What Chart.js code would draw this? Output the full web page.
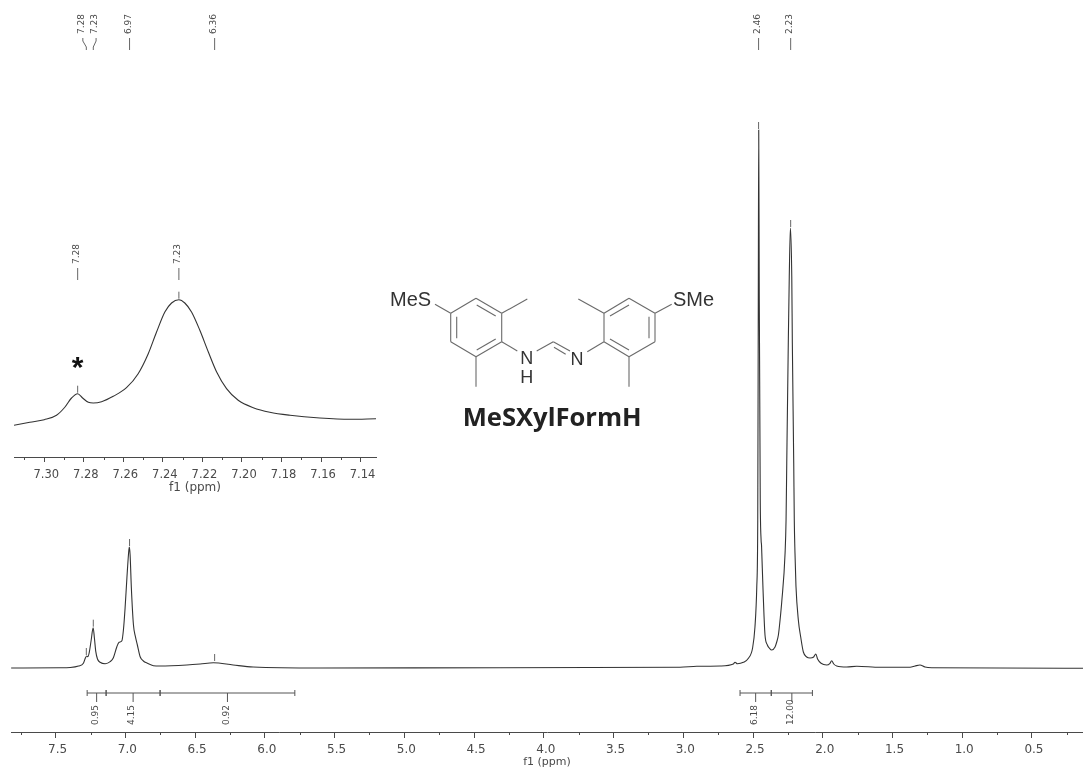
<!DOCTYPE html>
<html>
<head>
<meta charset="utf-8">
<title>MeSXylFormH</title>
<script src="https://cdn.jsdelivr.net/npm/chart.js@4/dist/chart.umd.min.js"></script>
<style>
    html, body { margin: 0; padding: 0; background: #fff; }
    #page { position: relative; width: 1083px; height: 770px; overflow: hidden; }
    canvas, svg { position: absolute; display: block; }
    #mainChart { left: 0; top: 0; }
    #insetChart { left: 0; top: 230px; }
    #molecule { left: 0; top: 0; }
    #molecule line { stroke: #6a6a6a; stroke-width: 1.1; }
    #molecule text { font-family: "Liberation Sans", sans-serif; fill: #333; }
</style>
</head>
<body>
<div id="page">
    <canvas id="mainChart" width="1083" height="770"></canvas>
    <canvas id="insetChart" width="400" height="266"></canvas>
    <svg id="molecule" width="1083" height="770">
        <!-- left ring -->
        <line x1="476" y1="298.3" x2="501.7" y2="313.3"/><line x1="501.7" y1="313.3" x2="501.7" y2="341.7"/>
        <line x1="501.7" y1="341.7" x2="476" y2="356.7"/><line x1="476" y1="356.7" x2="450.7" y2="341.7"/>
        <line x1="450.7" y1="341.7" x2="450.7" y2="313.3"/><line x1="450.7" y1="313.3" x2="476" y2="298.3"/>
        <line x1="456.7" y1="316.7" x2="456.7" y2="338.3"/><line x1="476.7" y1="305" x2="495.7" y2="316"/>
        <line x1="476.7" y1="350" x2="495.7" y2="339"/>
        <line x1="501.7" y1="313.3" x2="527.3" y2="299"/><line x1="476" y1="356.7" x2="476" y2="386.7"/>
        <line x1="450.7" y1="313.3" x2="435" y2="304.3"/><line x1="501.7" y1="341.7" x2="517.3" y2="351"/>
        <!-- formamidine link -->
        <line x1="536.7" y1="351" x2="553.3" y2="341.7"/><line x1="553.3" y1="341.7" x2="570" y2="351"/>
        <line x1="554" y1="347.3" x2="565.7" y2="354.3"/><line x1="587.3" y1="351.7" x2="604" y2="341.7"/>
        <!-- right ring -->
        <line x1="604" y1="313.3" x2="629" y2="298.3"/><line x1="629" y1="298.3" x2="655" y2="313.3"/>
        <line x1="655" y1="313.3" x2="655" y2="341.7"/><line x1="655" y1="341.7" x2="629" y2="356.7"/>
        <line x1="629" y1="356.7" x2="604" y2="341.7"/><line x1="604" y1="341.7" x2="604" y2="313.3"/>
        <line x1="649" y1="316.7" x2="649" y2="338.3"/><line x1="610" y1="316" x2="629" y2="305"/>
        <line x1="610" y1="339" x2="629" y2="350"/>
        <line x1="604" y1="313.3" x2="578.3" y2="299"/><line x1="629" y1="356.7" x2="629" y2="386.7"/>
        <line x1="655" y1="313.3" x2="671.7" y2="304.3"/>
        <text x="390" y="306" font-size="20">MeS</text>
        <text x="673" y="306" font-size="20">SMe</text>
        <text x="526.7" y="364" font-size="18" text-anchor="middle">N</text>
        <text x="526.7" y="382.5" font-size="18" text-anchor="middle">H</text>
        <text x="577" y="364.5" font-size="18" text-anchor="middle">N</text>
        <text x="462.7" y="426" font-size="25" font-weight="700" textLength="179" lengthAdjust="spacingAndGlyphs" style="font-family:'Open Sans',sans-serif;fill:#222">MeSXylFormH</text>
    </svg>
</div>
<script>
// main spectrum
const ppm = [7.819,7.468,7.396,7.336,7.301,7.286,7.276,7.269,7.258,7.245,7.231,7.222,7.212,7.200,7.181,7.145,7.109,7.086,7.061,7.045,7.025,7.014,7.002,6.989,6.975,6.971,6.966,6.957,6.942,6.928,6.914,6.894,6.871,6.842,6.799,6.751,6.559,6.464,6.369,6.227,6.084,5.604,4.313,3.023,2.903,2.736,2.641,2.629,2.612,2.569,2.533,2.503,2.486,2.473,2.466,2.462,2.459,2.455,2.448,2.442,2.439,2.437,2.428,2.421,2.414,2.397,2.383,2.366,2.342,2.330,2.318,2.306,2.294,2.270,2.263,2.258,2.247,2.240,2.232,2.222,2.218,2.208,2.204,2.199,2.192,2.175,2.158,2.139,2.115,2.091,2.065,2.050,2.036,2.012,1.972,1.948,1.936,1.921,1.900,1.828,1.756,1.589,1.374,1.338,1.303,1.267,1.219,0.134];
const intensity = [0,0.2,0.5,2,4.7,10.3,12,11.3,16.3,28,40.3,30,16.3,9,5.7,4.3,6.3,10.3,21.3,25.7,27.3,38,60,90,118,121,113,80,43,31.3,23,11.3,7,4.7,2.3,2,3,4,5.3,3,1,0,0.3,0.7,1.7,2,4,5.7,4.3,5.7,9.7,20,41,81,148,368,538,368,168,128,123,115,78,52,33,23,20,18,21,26,33,48,66,115,148,205,325,391,440,391,325,205,148,115,82,48,31,16,11,10,11,14,8.7,4.7,3,4.7,7.3,4,2,1,1.7,0.7,0.7,2,3,1,0.3,-0.3];

const majorTicks = [7.5,7,6.5,6,5.5,5,4.5,4,3.5,3,2.5,2,1.5,1,0.5];
const minorTicks = [7.75,7.25,6.75,6.25,5.75,5.25,4.75,4.25,3.75,3.25,2.75,2.25,1.75,1.25,0.75,0.25];

const peakPpm = [7.28,7.23,6.97,6.36,2.46,2.23];
const peakHeight = [12,40.3,121,6,538,440];
const peakLabelPpm = [7.305,7.21,6.97,6.36,2.46,2.23];
const peakLabels = ['7.28','7.23','6.97','6.36','2.46','2.23'];

const integralFrom = [7.274,7.138,6.751,2.593,2.369];
const integralTo = [7.138,6.751,5.785,2.369,2.074];
const integralLabels = ['0.95','4.15','0.92','6.18','12.00'];

// inset, 7.13 - 7.32 ppm
const insetPpm = [7.3153,7.3073,7.3,7.2938,7.2895,7.2862,7.2831,7.2806,7.2777,7.2752,7.271,7.2651,7.2584,7.2525,7.2474,7.2432,7.239,7.2356,7.2319,7.2289,7.2255,7.2213,7.217,7.2128,7.2078,7.2019,7.1943,7.1859,7.1757,7.1606,7.1454,7.1322];
const insetIntensity = [31.7,34.7,37.3,41.7,50,59,63.3,59,54.7,54,55.3,60.7,69.3,83.3,103.3,125,145,154,157.3,154,145,126.7,105,85,68.3,56.7,49.3,44.7,41.7,39,37.7,38.3];
const insetMajorTicks = [7.30,7.28,7.26,7.24,7.22,7.20,7.18,7.16,7.14];
const insetMinorTicks = [7.31,7.29,7.27,7.25,7.23,7.21,7.19,7.17,7.15];
const insetPeakPpm = [7.2831,7.2319];
const insetPeakHeight = [63.3,157.3];
const insetPeakLabels = ['7.28','7.23'];

const INK = '#4a4a4a';
const FONT = '"DejaVu Sans", sans-serif';

function toPoints(xs, ys) {
    return xs.map(function(x, i) {
        return {x: x, y: ys[i]};
    });
}

function verticalText(ctx, text, x, y) {
    ctx.save();
    ctx.translate(x, y);
    ctx.rotate(-Math.PI / 2);
    ctx.textAlign = 'left';
    ctx.textBaseline = 'middle';
    ctx.fillStyle = INK;
    ctx.font = '9px ' + FONT;
    ctx.fillText(text, 0, 0);
    ctx.restore();
}

function line(ctx, x1, y1, x2, y2) {
    ctx.beginPath();
    ctx.moveTo(x1, y1);
    ctx.lineTo(x2, y2);
    ctx.stroke();
}

function drawMinorTicks(chart, values, size) {
    const ctx = chart.ctx, sx = chart.scales.x, bottom = chart.chartArea.bottom;
    ctx.save();
    ctx.strokeStyle = INK;
    ctx.lineWidth = 1;
    values.forEach(function(v) {
        const px = Math.round(sx.getPixelForValue(v)) + 0.5;
        line(ctx, px, bottom, px, bottom + size);
    });
    ctx.restore();
}

function drawPeaks(chart, ppms, heights, labelPpms, labels) {
    const ctx = chart.ctx, sx = chart.scales.x, sy = chart.scales.y;
    ctx.save();
    ctx.strokeStyle = '#666';
    ctx.lineWidth = 1;
    ppms.forEach(function(p, i) {
        const px = sx.getPixelForValue(p);
        const lx = sx.getPixelForValue(labelPpms[i]);
        const top = sy.getPixelForValue(heights[i]);
        line(ctx, px, top - 1, px, top - 8);
        ctx.beginPath();
        ctx.moveTo(lx, 38);
        ctx.lineTo(lx, 41);
        ctx.lineTo(px, 47);
        ctx.lineTo(px, 50);
        ctx.stroke();
        verticalText(ctx, labels[i], lx - 1.2, 34);
    });
    ctx.restore();
}

const mainMarks = {
    id: 'mainMarks',
    afterDraw: function(chart) {
        const ctx = chart.ctx, sx = chart.scales.x, sy = chart.scales.y;
        drawMinorTicks(chart, minorTicks, 3);
        drawPeaks(chart, peakPpm, peakHeight, peakLabelPpm, peakLabels);
        // integrals
        const level = sy.getPixelForValue(-25);
        ctx.save();
        ctx.strokeStyle = '#555';
        ctx.lineWidth = 1;
        integralFrom.forEach(function(from, i) {
            const a = sx.getPixelForValue(from), b = sx.getPixelForValue(integralTo[i]);
            const mid = (a + b) / 2;
            line(ctx, a, level, b, level);
            line(ctx, a, level - 3, a, level + 3);
            line(ctx, b, level - 3, b, level + 3);
            line(ctx, mid, level, mid, level + 9);
            verticalText(ctx, integralLabels[i], mid - 1, 725);
        });
        ctx.restore();
    }
};

const insetMarks = {
    id: 'insetMarks',
    afterDraw: function(chart) {
        const ctx = chart.ctx, sx = chart.scales.x;
        drawMinorTicks(chart, insetMinorTicks, 3);
        drawPeaks(chart, insetPeakPpm, insetPeakHeight, insetPeakPpm, insetPeakLabels);
        // solvent star
        ctx.save();
        ctx.fillStyle = '#111';
        ctx.font = 'bold 30px "Liberation Sans", sans-serif';
        ctx.textAlign = 'center';
        ctx.textBaseline = 'middle';
        ctx.fillText('*', sx.getPixelForValue(7.2831), 139);
        ctx.restore();
    }
};

function spectrumOptions(xMin, xMax, yMin, yMax, ticks, axisHeight, tickSize, opt) {
    return {
        responsive: false,
        animation: false,
        events: [],
        layout: {padding: {left: opt.left, right: opt.right, top: 0, bottom: 0}},
        plugins: {legend: {display: false}, tooltip: {enabled: false}},
        scales: {
            x: {
                type: 'linear',
                reverse: true,
                min: xMin,
                max: xMax,
                afterBuildTicks: function(scale) {
                    scale.ticks = ticks.map(function(v) {
                        return {value: v};
                    });
                },
                afterFit: function(scale) {
                    scale.height = axisHeight;
                    scale.paddingLeft = 0;
                    scale.paddingRight = 0;
                },
                border: {display: true, color: INK, width: 1},
                grid: {display: true, drawOnChartArea: false, drawTicks: true, tickLength: tickSize, tickColor: INK},
                ticks: {
                    autoSkip: false,
                    maxRotation: 0,
                    padding: opt.tickPad,
                    labelOffset: 2,
                    color: INK,
                    font: {family: FONT, size: opt.tickFont},
                    callback: function(value) {
                        return value.toFixed(opt.digits);
                    }
                },
                title: {
                    display: true,
                    text: 'f1 (ppm)',
                    color: INK,
                    font: {family: FONT, size: opt.titleFont},
                    padding: {top: 0, bottom: 1}
                }
            },
            y: {type: 'linear', display: false, min: yMin, max: yMax}
        }
    };
}

new Chart(document.getElementById('mainChart').getContext('2d'), {
    type: 'line',
    data: {
        datasets: [{
            data: toPoints(ppm, intensity),
            borderColor: '#333',
            borderWidth: 1.1,
            pointRadius: 0,
            cubicInterpolationMode: 'monotone'
        }]
    },
    options: spectrumOptions(0.134, 7.82, -64, 668, majorTicks, 38, 6, {left: 11, right: 0, digits: 1, tickPad: 4.5, tickFont: 12, titleFont: 11}),
    plugins: [mainMarks]
});

new Chart(document.getElementById('insetChart').getContext('2d'), {
    type: 'line',
    data: {
        datasets: [{
            data: toPoints(insetPpm, insetIntensity),
            borderColor: '#333',
            borderWidth: 1.1,
            pointRadius: 0,
            cubicInterpolationMode: 'monotone'
        }]
    },
    options: spectrumOptions(7.1322, 7.3153, 0, 227, insetMajorTicks, 39, 5, {left: 14, right: 24, digits: 2, tickPad: 6, tickFont: 11.5, titleFont: 12}),
    plugins: [insetMarks]
});
</script>
</body>
</html>
